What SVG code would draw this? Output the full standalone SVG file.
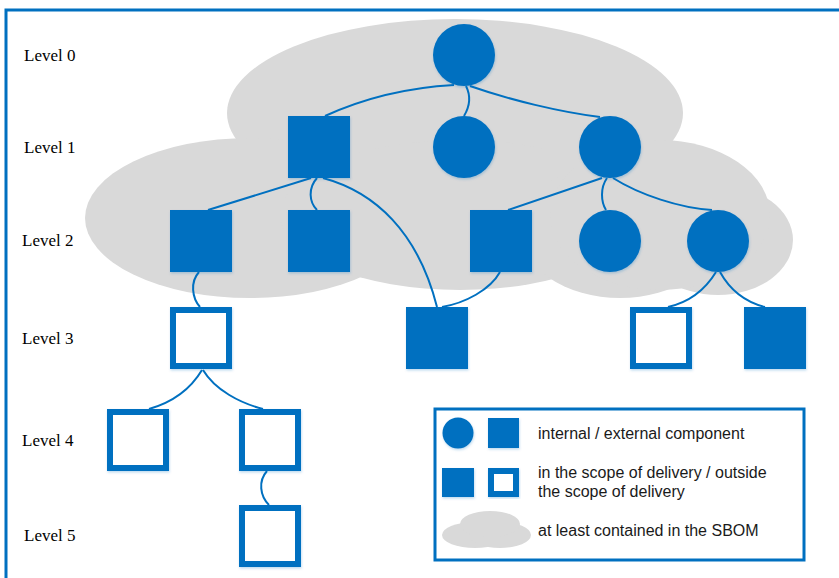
<svg xmlns="http://www.w3.org/2000/svg" width="839" height="578" viewBox="0 0 839 578">
<style>
.cloud{fill:#D9D9D9;stroke:none}
.fill{fill:#0070C0;stroke:none;filter:url(#sh)}
.out{fill:#FFFFFF;stroke:#0070C0;stroke-width:6;filter:url(#sh)}
.conn{fill:none;stroke:#0070C0;stroke-width:2}
.lvl{font-family:"Liberation Serif","Times New Roman",serif;font-size:17px;fill:#000000}
.leg{font-family:"Liberation Sans",Arial,sans-serif;font-size:16px;fill:#1a1a1a}
</style>
<defs>
<filter id="sh" x="-20%" y="-20%" width="140%" height="140%">
<feDropShadow dx="0.6" dy="1.5" stdDeviation="1" flood-color="#0070C0" flood-opacity="0.25"/>
</filter>
</defs>
<rect x="0" y="0" width="839" height="578" fill="#FFFFFF"/>
<path d="M6 578 V10 H839" fill="none" stroke="#0070C0" stroke-width="3"/>
<g id="sbom-cloud">
<ellipse class="cloud" cx="455" cy="113" rx="228" ry="94"/>
<ellipse class="cloud" cx="250" cy="218" rx="165" ry="80"/>
<ellipse class="cloud" cx="460" cy="215" rx="180" ry="75"/>
<ellipse class="cloud" cx="620" cy="230" rx="100" ry="68"/>
<ellipse class="cloud" cx="718" cy="240" rx="75" ry="55"/>
<ellipse class="cloud" cx="660" cy="215" rx="110" ry="75"/>
</g>
<g id="levels">
<text class="lvl" x="24" y="61">Level 0</text>
<text class="lvl" x="24" y="153">Level 1</text>
<text class="lvl" x="22" y="246">Level 2</text>
<text class="lvl" x="22" y="344">Level 3</text>
<text class="lvl" x="22" y="446">Level 4</text>
<text class="lvl" x="24" y="541">Level 5</text>
</g>
<g id="connectors">
<path class="conn" d="M454 85 C400 88 360 100 325 116"/>
<path class="conn" d="M466 86 C471 96 470 106 464 116"/>
<path class="conn" d="M470 86 C510 100 560 112 600 117"/>
<path class="conn" d="M311 178 L208 210"/>
<path class="conn" d="M317 178 C308 188 309 202 317 210"/>
<path class="conn" d="M323 178 C375 192 418 232 437 307"/>
<path class="conn" d="M602 178 L508 210"/>
<path class="conn" d="M607 178 C600 188 601 202 606 210"/>
<path class="conn" d="M613 178 C640 195 680 208 712 210"/>
<path class="conn" d="M199 272 C190 282 192 298 200 307"/>
<path class="conn" d="M500 272 C490 290 465 303 442 307"/>
<path class="conn" d="M716 272 C705 290 690 302 668 307"/>
<path class="conn" d="M720 272 C730 290 745 302 765 307"/>
<path class="conn" d="M202 370 C190 390 170 403 149 409"/>
<path class="conn" d="M203 370 C215 390 240 403 263 409"/>
<path class="conn" d="M267 471 C258 481 260 496 269 505"/>
</g>
<g id="n0"><circle class="fill" cx="464" cy="55" r="31"/></g>
<g id="n1a"><rect class="fill" x="288" y="116" width="62" height="62"/></g>
<g id="n1b"><circle class="fill" cx="464" cy="147" r="31"/></g>
<g id="n1c"><circle class="fill" cx="610" cy="147" r="31"/></g>
<g id="n2a"><rect class="fill" x="170" y="210" width="62" height="62"/></g>
<g id="n2b"><rect class="fill" x="288" y="210" width="62" height="62"/></g>
<g id="n2c"><rect class="fill" x="470" y="210" width="62" height="62"/></g>
<g id="n2d"><circle class="fill" cx="610" cy="241" r="31"/></g>
<g id="n2e"><circle class="fill" cx="718" cy="241" r="31"/></g>
<g id="n3a"><rect class="out" x="173" y="310" width="56" height="56"/></g>
<g id="n3b"><rect class="fill" x="406" y="307" width="62" height="62"/></g>
<g id="n3c"><rect class="out" x="633" y="310" width="56" height="56"/></g>
<g id="n3d"><rect class="fill" x="744" y="307" width="62" height="62"/></g>
<g id="n4a"><rect class="out" x="110" y="412" width="56" height="56"/></g>
<g id="n4b"><rect class="out" x="242" y="412" width="56" height="56"/></g>
<g id="n5a"><rect class="out" x="242" y="508" width="56" height="56"/></g>
<g id="legend">
<rect x="435" y="409" width="369" height="151" fill="#FFFFFF" stroke="#0070C0" stroke-width="3"/>
<circle class="fill" cx="458" cy="433" r="15.5"/>
<rect class="fill" x="488" y="418" width="31" height="30"/>
<text class="leg" x="538" y="439">internal / external component</text>
<rect class="fill" x="442" y="468" width="32" height="29"/>
<rect class="out" x="491" y="471" width="25" height="23"/>
<text class="leg" x="538" y="478">in the scope of delivery / outside</text>
<text class="leg" x="538" y="497">the scope of delivery</text>
<ellipse class="cloud" cx="475" cy="535" rx="33" ry="13"/>
<ellipse class="cloud" cx="500" cy="535" rx="31" ry="13"/>
<ellipse class="cloud" cx="490" cy="524" rx="30" ry="13"/>
<text class="leg" x="538" y="536">at least contained in the SBOM</text>
</g>
</svg>
